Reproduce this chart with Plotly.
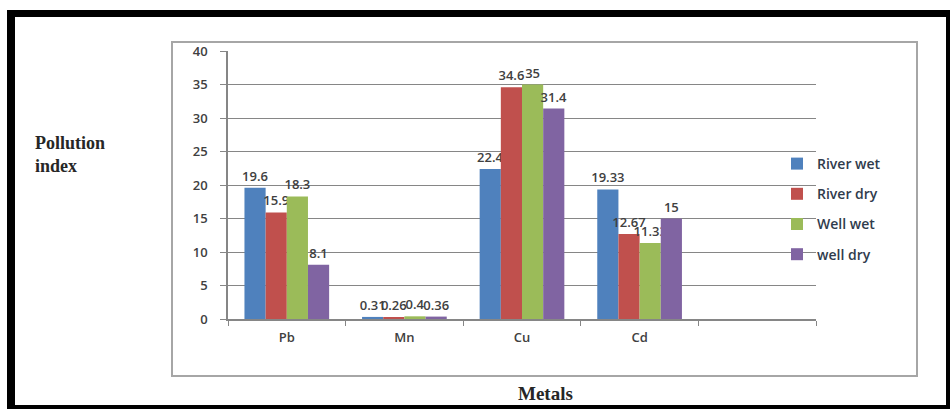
import plotly.graph_objects as go

categories = ["Pb", "Mn", "Cu", "Cd", " "]
series_names = ["River wet", "River dry", "Well wet", "well dry"]
river_wet = [19.6, 0.31, 22.4, 19.33, None]
river_dry = [15.9, 0.26, 34.6, 12.67, None]
well_wet = [18.3, 0.4, 35, 11.33, None]
well_dry = [8.1, 0.36, 31.4, 15, None]
colors = ["#4F81BD", "#C0504D", "#9BBB59", "#8064A2"]
y_ticks = [0, 5, 10, 15, 20, 25, 30, 35, 40]

W, H = 950, 409
L, R, T, B = 228, 816, 51, 319  # plot area in pixels


def px(x):
    return (x - L) / (R - L)


def py(y):
    return (B - y) / (B - T)


def fmt(v):
    if v is None:
        return ""
    return ("%g" % v)


fig = go.Figure()
for name, vals, col in zip(series_names, [river_wet, river_dry, well_wet, well_dry], colors):
    fig.add_trace(go.Bar(
        x=categories, y=vals, name=name, legendgroup=name,
        marker=dict(color=col, line=dict(width=0)),
        text=[fmt(v) for v in vals], textposition="outside",
        textfont=dict(family="Open Sans", size=13, color="#404040", weight=600),
        cliponaxis=False, constraintext="none", textangle=0,
    ))

shapes = []
# gray chart frame
shapes.append(dict(type="rect", xref="paper", yref="paper",
                   x0=px(172), x1=px(917), y0=py(376), y1=py(42),
                   line=dict(color="#A6A6A6", width=2), layer="below"))
# black outer border
for (x0, x1, y0, y1) in [(7, 950, 10, 17), (7, 15, 10, 409), (7, 950, 405, 409), (946, 950, 10, 409)]:
    shapes.append(dict(type="rect", xref="paper", yref="paper",
                       x0=px(x0), x1=px(x1), y0=py(y1), y1=py(y0),
                       fillcolor="black", line=dict(width=0), layer="above"))

annotations = [
    dict(text="Pollution<br>index", xref="paper", yref="paper", x=px(33), y=py(154),
         xanchor="left", yanchor="middle", align="left", showarrow=False,
         font=dict(family="Liberation Serif", size=18, color="#262626", weight=600)),
    dict(text="Metals", xref="paper", yref="paper", x=px(545), y=py(393),
         xanchor="center", yanchor="middle", showarrow=False,
         font=dict(family="Liberation Serif", size=19, color="#262626", weight=600)),
]

fig.update_layout(
    width=W, height=H,
    margin=dict(l=L, r=W - R, t=T, b=H - B, pad=0),
    paper_bgcolor="white", plot_bgcolor="white",
    barmode="group", bargap=0.28, bargroupgap=0,
    shapes=shapes, annotations=annotations,
    showlegend=True,
    legend=dict(x=px(777), y=py(148), xanchor="left", yanchor="top",
                font=dict(family="Open Sans", size=14, color="#2F3B4C", weight=600),
                bgcolor="rgba(0,0,0,0)", borderwidth=0,
                tracegroupgap=9, itemwidth=30),
    xaxis=dict(categoryorder="array", categoryarray=categories,
               showline=True, linecolor="#868686", linewidth=1.5,
               ticks="outside", tickson="boundaries", ticklen=5, tickcolor="#868686",
               tickfont=dict(family="Open Sans", size=13, color="#404040", weight=600),
               showgrid=False, fixedrange=True, ticklabelstandoff=6),
    yaxis=dict(range=[0, 40], tickvals=y_ticks, showline=True, linecolor="#868686", linewidth=1.5,
               ticks="outside", ticklen=6, tickcolor="#868686",
               showgrid=True, gridcolor="#868686", gridwidth=1, zeroline=False,
               tickfont=dict(family="Open Sans", size=13, color="#404040", weight=600),
               ticklabelstandoff=10, fixedrange=True),
)

fig.write_html("out.html")
